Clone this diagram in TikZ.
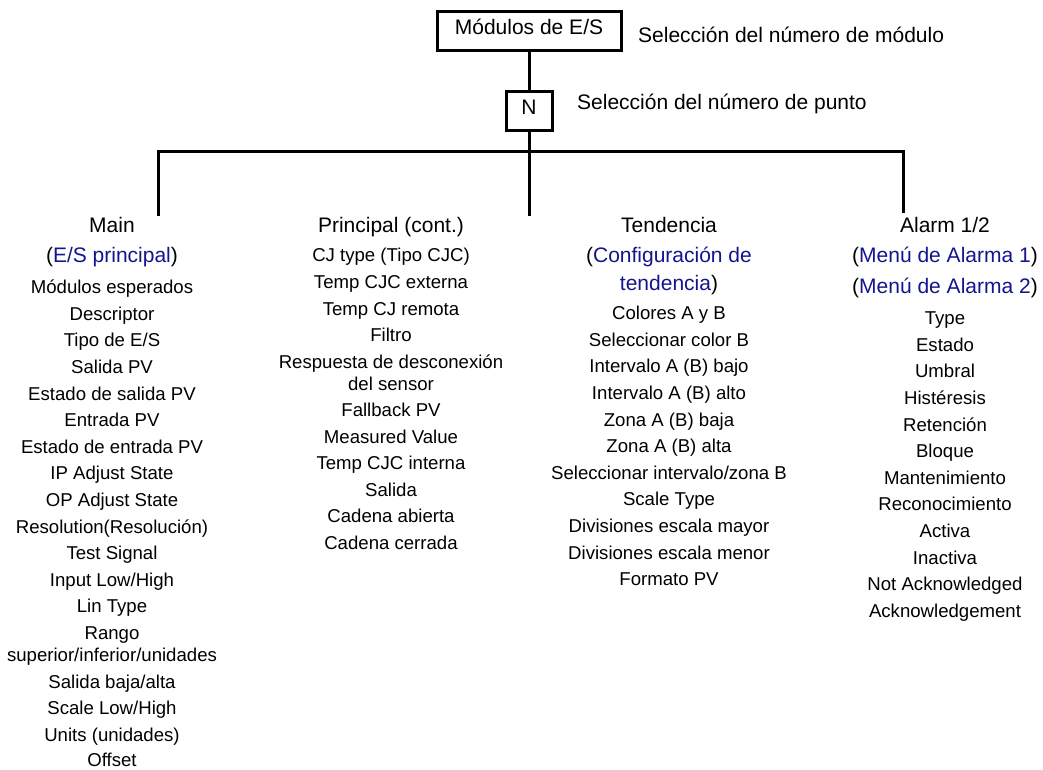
\documentclass[tikz,border=0pt]{standalone}
\usepackage{fontspec}
\setmainfont{Liberation Sans}
\definecolor{menublue}{RGB}{20,20,140}
\newcommand{\menuref}[1]{(\textcolor{menublue}{#1})}
\begin{document}
\begin{tikzpicture}[x=1pt,y=-1pt,
  wire/.style={line width=3pt, line join=miter},
  framed/.style={draw, line width=3pt, inner sep=0pt,
    font=\fontsize{21}{25}\selectfont, text height=0.72em, text depth=0pt},
  note/.style={font=\fontsize{21}{25}\selectfont, anchor=base west, inner sep=0pt},
  head/.style={font=\fontsize{21}{28}\selectfont, anchor=base, align=center, inner sep=0pt},
  item/.style={font=\fontsize{18.6}{22}\selectfont, anchor=base, align=center, inner sep=0pt}]
\useasboundingbox (0,0) rectangle (1043,769);

% top of the tree
\node[framed, minimum width=184pt, minimum height=39pt] (mod) at (529,31) {Módulos de E/S};
\node[note] (modnote) at (638,42.6) {Selección del número de módulo};
\node[framed, minimum width=46pt, minimum height=39pt] (pt) at (529,110.5) {N};
\node[note] (ptnote) at (577,109.6) {Selección del número de punto};

% branch bar
\coordinate (bl) at (158,151);
\coordinate (br) at (903,151);
\coordinate (dl) at (158,216);
\coordinate (dm) at (529,216);
\coordinate (dr) at (903,213);
\draw[wire] (mod.south) -- (pt.north);
\draw[wire] (pt.south) -- (dm);
\draw[wire] (dl) -- (bl) -- (br) -- (dr);

% column 1: Main
\node[head] (mainh) at (112,232.6) {Main};
\node[head] (mainsub) at (112,262.6) {\menuref{E/S principal}};
\node[item] (m1) at (112,293.7) {Módulos esperados};
\node[item] (m2) at (112,320.3) {Descriptor};
\node[item] (m3) at (112,346.9) {Tipo de E/S};
\node[item] (m4) at (112,373.5) {Salida PV};
\node[item] (m5) at (112,400.1) {Estado de salida PV};
\node[item] (m6) at (112,426.7) {Entrada PV};
\node[item] (m7) at (112,453.3) {Estado de entrada PV};
\node[item] (m8) at (112,479.9) {IP Adjust State};
\node[item] (m9) at (112,506.5) {OP Adjust State};
\node[item] (m10) at (112,533.1) {Resolution(Resolución)};
\node[item] (m11) at (112,559.7) {Test Signal};
\node[item] (m12) at (112,586.3) {Input Low/High};
\node[item] (m13) at (112,612.9) {Lin Type};
\node[item] (m14) at (112,661.2) {Rango\\superior/inferior/unidades};
\node[item] (m15) at (112,688.2) {Salida baja/alta};
\node[item] (m16) at (112,714.6) {Scale Low/High};
\node[item] (m17) at (112,741.0) {Units (unidades)};
\node[item] (m18) at (112,766.8) {Offset};

% column 2: Principal (cont.)
\node[head] (ph) at (391,232.6) {Principal (cont.)};
\node[item] (p1) at (391,261.7) {CJ type (Tipo CJC)};
\node[item] (p2) at (391,288.7) {Temp CJC externa};
\node[item] (p3) at (391,315.2) {Temp CJ remota};
\node[item] (p4) at (391,341.7) {Filtro};
\node[item] (p5) at (391,390.2) {Respuesta de desconexión\\del sensor};
\node[item] (p6) at (391,416.7) {Fallback PV};
\node[item] (p7) at (391,443.2) {Measured Value};
\node[item] (p8) at (391,469.7) {Temp CJC interna};
\node[item] (p9) at (391,496.2) {Salida};
\node[item] (p10) at (391,522.7) {Cadena abierta};
\node[item] (p11) at (391,549.2) {Cadena cerrada};

% column 3: Tendencia
\node[head] (th) at (669,232.6) {Tendencia};
\node[head] (tsub) at (669,290.6) {(\textcolor{menublue}{Configuración de}\\\textcolor{menublue}{tendencia})};
\node[item] (t1) at (669,319.7) {Colores A y B};
\node[item] (t2) at (669,346.3) {Seleccionar color B};
\node[item] (t3) at (669,372.9) {Intervalo A (B) bajo};
\node[item] (t4) at (669,399.5) {Intervalo A (B) alto};
\node[item] (t5) at (669,426.1) {Zona A (B) baja};
\node[item] (t6) at (669,452.7) {Zona A (B) alta};
\node[item] (t7) at (669,479.3) {Seleccionar intervalo/zona B};
\node[item] (t8) at (669,505.9) {Scale Type};
\node[item] (t9) at (669,532.5) {Divisiones escala mayor};
\node[item] (t10) at (669,559.1) {Divisiones escala menor};
\node[item] (t11) at (669,585.7) {Formato PV};

% column 4: Alarm 1/2
\node[head] (ah) at (945,232.6) {Alarm 1/2};
\node[head] (asub1) at (945,262.6) {\menuref{Menú de Alarma 1}};
\node[head] (asub2) at (945,293.6) {\menuref{Menú de Alarma 2}};
\node[item] (a1) at (945,324.7) {Type};
\node[item] (a2) at (945,351.3) {Estado};
\node[item] (a3) at (945,377.9) {Umbral};
\node[item] (a4) at (945,404.5) {Histéresis};
\node[item] (a5) at (945,431.1) {Retención};
\node[item] (a6) at (945,457.7) {Bloque};
\node[item] (a7) at (945,484.3) {Mantenimiento};
\node[item] (a8) at (945,510.9) {Reconocimiento};
\node[item] (a9) at (945,537.5) {Activa};
\node[item] (a10) at (945,564.1) {Inactiva};
\node[item] (a11) at (945,590.7) {Not Acknowledged};
\node[item] (a12) at (945,617.3) {Acknowledgement};
\end{tikzpicture}
\end{document}
